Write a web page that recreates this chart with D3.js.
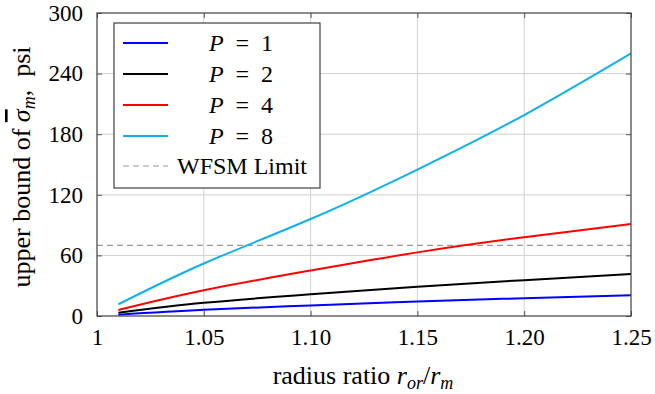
<!DOCTYPE html>
<html>
<head>
<meta charset="utf-8">
<script src="https://cdn.jsdelivr.net/npm/d3@7"></script>
<style>
  body { margin: 0; background: #fff; }
  text { font-family: "Liberation Serif", "DejaVu Serif", serif; fill: #000; }
</style>
</head>
<body>
<svg width="655" height="394"></svg>
<script>
// radius ratio samples
var ratio = [1.01, 1.05, 1.10, 1.15, 1.20, 1.25];
// upper bound of sigma_m (psi) per pole count
var p1 = [1.3, 6.2, 10.5, 14.3, 17.6, 20.5];
var p2 = [3.3, 13.0, 21.5, 29.0, 35.5, 41.5];
var p4 = [6.0, 25.5, 45.0, 63.0, 78.0, 91.0];
var p8 = [11.6, 52.0, 96.0, 145.0, 199.0, 260.0];
var wfsmLimit = 70;
var xTicks = [1, 1.05, 1.10, 1.15, 1.20, 1.25];
var xTickLabels = ["1", "1.05", "1.10", "1.15", "1.20", "1.25"];
var yTicks = [0, 60, 120, 180, 240, 300];

(function() {
  var series = [
    {p: 1, values: p1, color: "#0000ff"},
    {p: 2, values: p2, color: "#000000"},
    {p: 4, values: p4, color: "#ff0000"},
    {p: 8, values: p8, color: "#10b1ea"}
  ];

  var svg = d3.select("svg");
  var mLeft = 97, mRight = 631, mTop = 13, mBottom = 316;

  var x = d3.scaleLinear().domain([1, 1.25]).range([mLeft, mRight]);
  var y = d3.scaleLinear().domain([0, 300]).range([mBottom, mTop]);

  // grid
  var grid = svg.append("g");
  grid.selectAll(".gx").data(xTicks.slice(1, -1)).enter().append("line")
      .attr("x1", function(d) { return x(d); }).attr("x2", function(d) { return x(d); })
      .attr("y1", mTop).attr("y2", mBottom)
      .attr("stroke", "#d0d0d0").attr("stroke-width", 1);
  grid.selectAll(".gy").data(yTicks.slice(1, -1)).enter().append("line")
      .attr("y1", function(d) { return y(d); }).attr("y2", function(d) { return y(d); })
      .attr("x1", mLeft).attr("x2", mRight)
      .attr("stroke", "#d0d0d0").attr("stroke-width", 1);

  // WFSM limit
  svg.append("line")
      .attr("x1", mLeft).attr("x2", mRight)
      .attr("y1", y(wfsmLimit)).attr("y2", y(wfsmLimit))
      .attr("stroke", "#9a9a9a").attr("stroke-width", 1.2)
      .attr("stroke-dasharray", "6,4");

  // curves
  var line = d3.line()
      .x(function(d, i) { return x(ratio[i]); })
      .y(function(d) { return y(d); })
      .curve(d3.curveNatural);

  svg.selectAll(".curve").data(series).enter().append("path")
      .attr("d", function(d) { return line(d.values); })
      .attr("fill", "none")
      .attr("stroke", function(d) { return d.color; })
      .attr("stroke-width", 2);

  // axes, ticks inside on all four sides
  var tickColor = "#555";
  svg.append("g")
      .attr("transform", "translate(0," + mBottom + ")")
      .call(d3.axisBottom(x).tickValues(xTicks).tickSize(-5).tickPadding(13)
        .tickFormat(function(d, i) { return xTickLabels[i]; }))
      .call(function(g) {
        g.select(".domain").remove();
        g.selectAll("line").attr("stroke", tickColor);
        g.selectAll("text").attr("font-size", 23).attr("font-family", "Liberation Serif");
      });
  svg.append("g")
      .attr("transform", "translate(0," + mTop + ")")
      .call(d3.axisTop(x).tickValues(xTicks).tickSize(-5).tickFormat(""))
      .call(function(g) {
        g.select(".domain").remove();
        g.selectAll("line").attr("stroke", tickColor);
      });
  svg.append("g")
      .attr("transform", "translate(" + mLeft + ",0)")
      .call(d3.axisLeft(y).tickValues(yTicks).tickSize(-5).tickPadding(14))
      .call(function(g) {
        g.select(".domain").remove();
        g.selectAll("line").attr("stroke", tickColor);
        g.selectAll("text").attr("font-size", 23).attr("font-family", "Liberation Serif");
      });
  svg.append("g")
      .attr("transform", "translate(" + mRight + ",0)")
      .call(d3.axisRight(y).tickValues(yTicks).tickSize(-5).tickFormat(""))
      .call(function(g) {
        g.select(".domain").remove();
        g.selectAll("line").attr("stroke", tickColor);
      });

  svg.append("rect")
      .attr("x", mLeft).attr("y", mTop)
      .attr("width", mRight - mLeft).attr("height", mBottom - mTop)
      .attr("fill", "none").attr("stroke", "#404040").attr("stroke-width", 1.2);

  // legend
  var leg = svg.append("g");
  leg.append("rect")
      .attr("x", 114).attr("y", 23).attr("width", 206).attr("height", 165)
      .attr("fill", "#fff").attr("stroke", "#404040").attr("stroke-width", 1.2);

  var rowY = [43, 74, 105, 136];
  series.forEach(function(s, i) {
    leg.append("line")
        .attr("x1", 123).attr("x2", 168)
        .attr("y1", rowY[i]).attr("y2", rowY[i])
        .attr("stroke", s.color).attr("stroke-width", 2);
    var t = leg.append("text")
        .attr("x", 241).attr("y", rowY[i] + 8)
        .attr("text-anchor", "middle").attr("font-size", 24);
    t.append("tspan").attr("font-style", "italic").text("P");
    t.append("tspan").text("\u2002=\u2002" + s.p);
  });
  leg.append("line")
      .attr("x1", 123).attr("x2", 168)
      .attr("y1", 166).attr("y2", 166)
      .attr("stroke", "#9a9a9a").attr("stroke-width", 1.2)
      .attr("stroke-dasharray", "6,4");
  leg.append("text")
      .attr("x", 242).attr("y", 174)
      .attr("text-anchor", "middle").attr("font-size", 24)
      .text("WFSM Limit");

  // axis titles
  var xl = svg.append("text")
      .attr("x", 363).attr("y", 384)
      .attr("text-anchor", "middle").attr("font-size", 26);
  xl.append("tspan").text("radius ratio ");
  xl.append("tspan").attr("font-style", "italic").text("r");
  xl.append("tspan").attr("font-style", "italic").attr("font-size", 18).attr("dy", 5).text("or");
  xl.append("tspan").attr("dy", -5).text("/");
  xl.append("tspan").attr("font-style", "italic").text("r");
  xl.append("tspan").attr("font-style", "italic").attr("font-size", 18).attr("dy", 5).text("m");

  var yl = svg.append("text")
      .attr("transform", "translate(30,167) rotate(-90)")
      .attr("text-anchor", "middle").attr("font-size", 26);
  yl.append("tspan").text("upper bound of ");
  yl.append("tspan").attr("font-style", "italic")
      .style("text-decoration", "overline").text("\u03C3");
  yl.append("tspan").attr("font-style", "italic").attr("font-size", 18).attr("dy", 5).text("m");
  yl.append("tspan").attr("dy", -5).text(",\u2002psi");
})();
</script>
</body>
</html>
